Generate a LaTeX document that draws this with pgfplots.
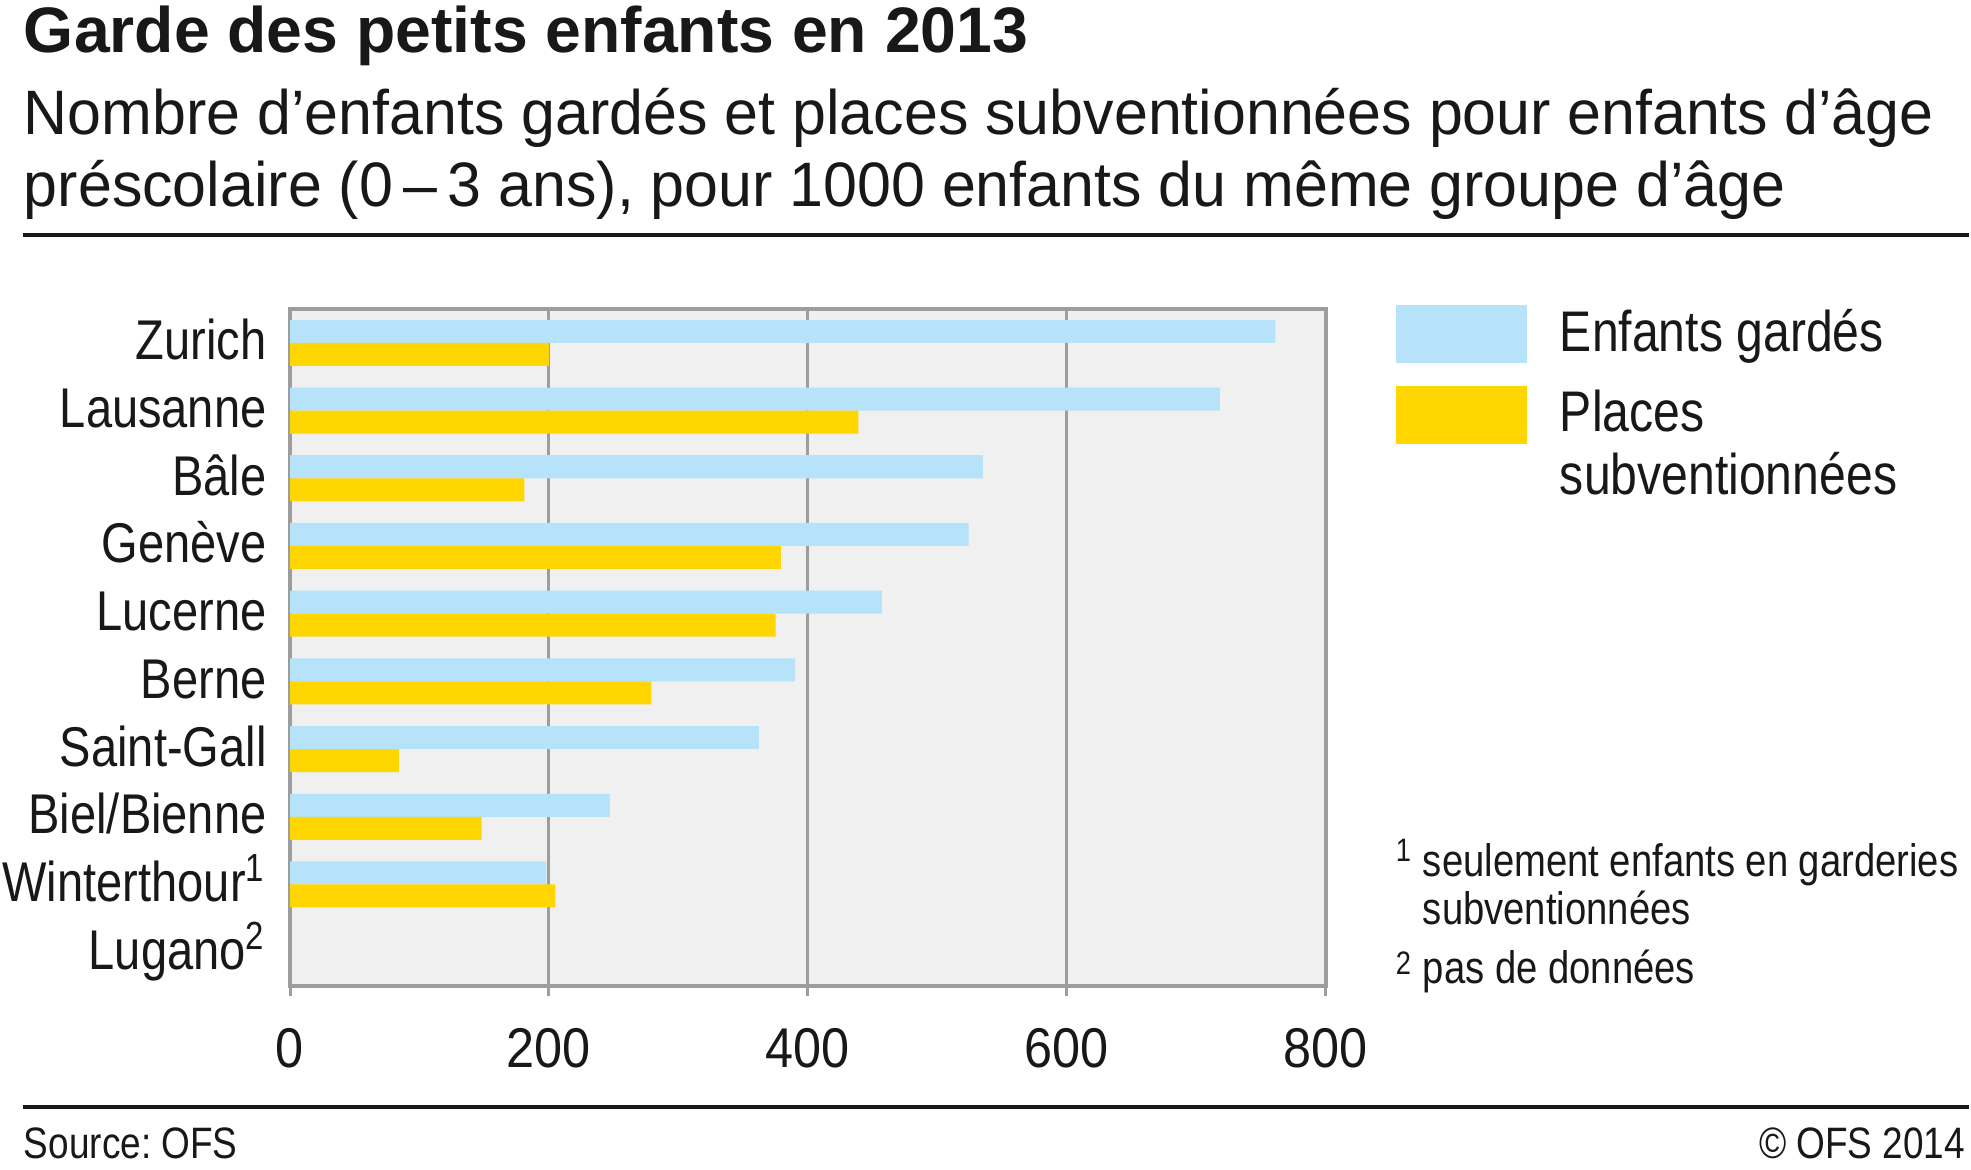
\documentclass[border=0pt]{standalone}
\usepackage{fontspec}
\usepackage{pgfplots}
\pgfplotsset{compat=1.18}

\setmainfont{Liberation Sans}
\newfontfamily\fsub{Liberation Sans}[FakeStretch=0.97]
\newfontfamily\fchart{Liberation Sans}[FakeStretch=0.84]
\newfontfamily\ftick{Liberation Sans}[FakeStretch=0.9]

\definecolor{kidblue}{RGB}{183,227,250}
\definecolor{kidyellow}{RGB}{255,214,0}
\definecolor{framegray}{RGB}{157,157,157}
\definecolor{plotbg}{RGB}{240,240,240}
\definecolor{ink}{RGB}{26,24,22}

\begin{document}
\begin{tikzpicture}
\useasboundingbox (0,0) rectangle (394.2pt,-233.8pt);

\begin{axis}[
at={(58pt,-197.2pt)}, anchor=south west,
scale only axis,
width=207.2pt, height=135.4pt,
xmin=0, xmax=800,
ymin=-0.5, ymax=9.5,
y dir=reverse,
axis background/.style={fill=plotbg},
axis line style={framegray, line width=0.9pt},
xmajorgrids,
grid style={framegray, line width=0.6pt},
tick align=outside,
major tick length=2pt,
xtick pos=left,
xtick={0,200,400,600,800},
xtick style={framegray, line width=0.6pt},
ytick={0,1,2,3,4,5,6,7,8,9},
ytick style={draw=none},
yticklabels={Zurich,Lausanne,Bâle,Genève,Lucerne,Berne,Saint-Gall,Biel/Bienne,Winterthour\textsuperscript{1},Lugano\textsuperscript{2}},
xticklabel style={font=\ftick\fontsize{11.2pt}{13pt}\selectfont, text=ink, anchor=base, inner sep=0pt, yshift=-14.2pt},
yticklabel style={font=\fchart\fontsize{11.2pt}{13pt}\selectfont, text=ink, anchor=base east, inner sep=0pt, xshift=-2.5pt, yshift=-3.4pt},
/pgf/number format/assume math mode=true,
legend cell align=left,
legend style={at={(1.0666,1.007)}, anchor=north west, draw=none, fill=none,
  inner sep=0pt, row sep=4.5pt, column sep=6.6pt,
  font=\fchart\fontsize{11.46pt}{13pt}\selectfont, text=ink,
  nodes={inner sep=0pt}},
]
\addplot[xbar, fill=kidblue, draw=none, bar width=0.34, bar shift=-0.17,
  legend image code/.code={\fill[kidblue] (0pt,-5.8pt) rectangle (26.2pt,5.8pt);}]
coordinates {(761,0) (718,1) (535,2) (524,3) (457,4) (390,5) (362,6) (247,7) (198,8)};
\addlegendentry{Enfants gardés}
\addplot[xbar, fill=kidyellow, draw=none, bar width=0.34, bar shift=0.17,
  legend image code/.code={\fill[kidyellow] (0pt,-5.8pt) rectangle (26.2pt,5.8pt);}]
coordinates {(200,0) (439,1) (181,2) (379,3) (375,4) (279,5) (84,6) (148,7) (205,8)};
\addlegendentry{Places}
\addlegendimage{empty legend}
\addlegendentry{\smash{\raisebox{-5.7pt}{subventionnées}}}
\end{axis}

\begin{scope}[x=0.2pt, y=-0.2pt, every node/.style={inner sep=0pt, text=ink}]
\node[anchor=base west, font=\bfseries\fontsize{12.86pt}{15pt}\selectfont] at (23,52) {Garde des petits enfants en 2013};
\node[anchor=base west, font=\fsub\fontsize{12.56pt}{15pt}\selectfont] at (23,134) {Nombre d’enfants gardés et places subventionnées pour enfants d’âge};
\node[anchor=base west, font=\fsub\fontsize{12.56pt}{15pt}\selectfont] at (23,206) {préscolaire (0\,–\,3 ans), pour 1000 enfants du même groupe d’âge};
\draw[ink, line width=0.8pt] (23,235) -- (1969,235);

\node[anchor=base west, font=\fchart\fontsize{6.5pt}{8pt}\selectfont] at (1395,861) {1};
\node[anchor=base west, font=\fchart\fontsize{9.1pt}{11pt}\selectfont] at (1422,876) {seulement enfants en garderies};
\node[anchor=base west, font=\fchart\fontsize{9.1pt}{11pt}\selectfont] at (1422,924) {subventionnées};
\node[anchor=base west, font=\fchart\fontsize{6.5pt}{8pt}\selectfont] at (1395,974) {2};
\node[anchor=base west, font=\fchart\fontsize{9.1pt}{11pt}\selectfont] at (1422,983) {pas de données};

\draw[ink, line width=0.66pt] (23,1107) -- (1969,1107);
\node[anchor=base west, font=\fchart\fontsize{8.8pt}{10pt}\selectfont] at (23,1158) {Source:~OFS};
\node[anchor=base east, font=\fchart\fontsize{8.8pt}{10pt}\selectfont] at (1966,1158) {© OFS 2014};
\end{scope}
\end{tikzpicture}
\end{document}
